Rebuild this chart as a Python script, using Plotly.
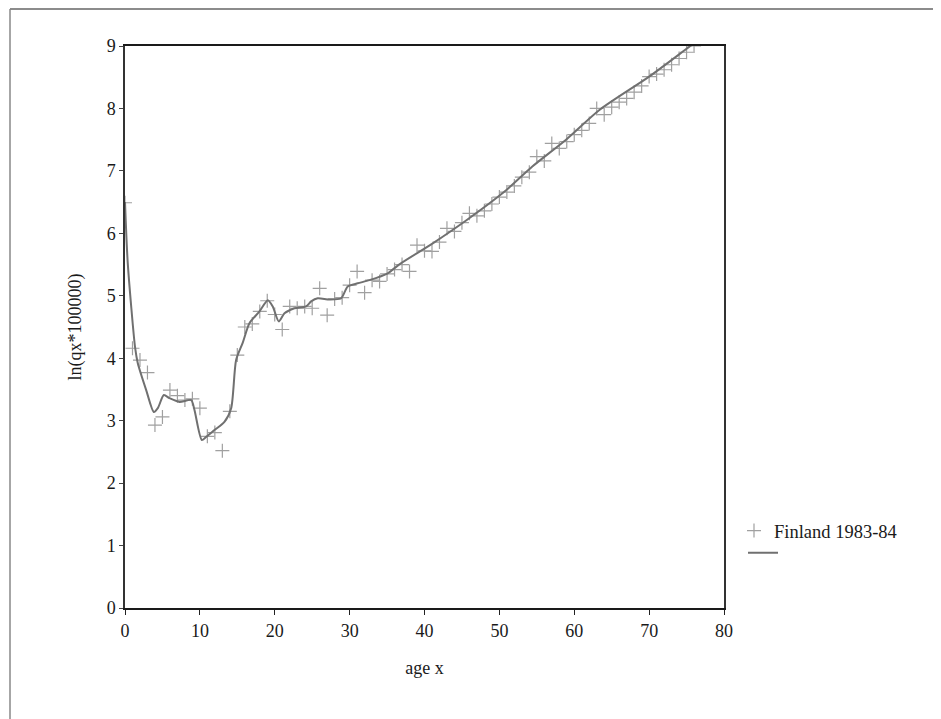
import plotly.graph_objects as go

# observed data (crosses)
data_ages = list(range(0, 77))
data_vals = [6.49, 4.16, 3.97, 3.77, 2.93, 3.06, 3.49, 3.40, 3.33, 3.35,
             3.20, 2.75, 2.81, 2.52, 3.15, 4.05, 4.50, 4.55, 4.75, 4.92,
             4.70, 4.46, 4.83, 4.80, 4.83, 4.80, 5.12, 4.69, 4.95, 4.97,
             5.17, 5.39, 5.05, 5.25, 5.23, 5.35, 5.42, 5.50, 5.39, 5.81,
             5.72, 5.71, 5.86, 6.08, 6.03, 6.17, 6.32, 6.28, 6.36, 6.47,
             6.58, 6.66, 6.76, 6.90, 6.98, 7.23, 7.16, 7.44, 7.36, 7.47,
             7.58, 7.65, 7.76, 8.00, 7.90, 8.02, 8.10, 8.16, 8.26, 8.36,
             8.51, 8.55, 8.62, 8.70, 8.80, 8.90, 9.00]

# fitted (smoothed) curve
curve_ages = [0, 0.37, 1.36, 1.71, 2.83, 3.85, 4.38, 5.19, 5.94, 7.28, 8.84,
              9.28, 10.26, 10.84, 11.95, 13.28, 14.18, 14.84, 15.73, 16.62,
              17.96, 19.07, 19.73, 20.53, 21.3, 22.63, 24.19, 24.86, 25.74,
              27.3, 28.86, 29.75, 31.08, 32.64, 35.09, 36.6, 41.1, 45.6,
              50.9, 54.4, 58.9, 63.4, 70, 75.5, 77]
curve_vals = [6.5, 5.52, 4.16, 3.92, 3.49, 3.14, 3.2, 3.41, 3.36, 3.3, 3.33,
              3.17, 2.69, 2.74, 2.85, 2.98, 3.2, 3.97, 4.25, 4.56,
              4.75, 4.93, 4.83, 4.59, 4.72, 4.8, 4.83, 4.91, 4.96,
              4.94, 4.96, 5.15, 5.2, 5.25, 5.36, 5.5, 5.84, 6.21,
              6.69, 7.07, 7.5, 7.98, 8.51, 9.0, 9.13]

x_ticks = [0, 10, 20, 30, 40, 50, 60, 70, 80]
y_ticks = [0, 1, 2, 3, 4, 5, 6, 7, 8, 9]

series_name = "Finland 1983-84"

FONT = "Liberation Serif"

fig = go.Figure()
fig.add_trace(go.Scatter(
    x=data_ages, y=data_vals, mode="markers", name=series_name,
    marker=dict(symbol="cross-thin", size=10, color="#a0a0a0",
                line=dict(color="#a0a0a0", width=1.2)),
    legend="legend", cliponaxis=True,
))
fig.add_trace(go.Scatter(
    x=curve_ages, y=curve_vals, mode="lines", name=" ",
    line=dict(color="#707070", width=2, shape="spline", smoothing=0.7),
    legend="legend2",
))

# page has an 8px body margin: figure origin sits at (8, 8) on the page
OFF = 8
W, H = 941 - OFF, 719 - OFF
L, T = 125 - OFF, 46 - OFF
R = W - (724 - OFF)
B = H - (608 - OFF)
pw, ph = W - L - R, H - T - B

def px(x):  # page x -> paper x
    return (x - OFF - L) / pw

def py(y):  # page y -> paper y
    return (H - B - (y - OFF)) / ph

fig.update_layout(
    width=W, height=H,
    margin=dict(l=L, r=R, t=T, b=B, pad=0, autoexpand=False),
    paper_bgcolor="white", plot_bgcolor="white",
    font=dict(family=FONT, size=18, color="#1a1a1a"),
    showlegend=True,
    legend=dict(x=px(734), y=py(531), xanchor="left", yanchor="middle",
                font=dict(family=FONT, size=18.5, color="#1a1a1a"),
                bgcolor="rgba(0,0,0,0)", itemwidth=30),
    legend2=dict(x=px(743), y=py(553), xanchor="left", yanchor="middle",
                 font=dict(family=FONT, size=18, color="#1a1a1a"),
                 bgcolor="rgba(0,0,0,0)", itemwidth=30),
    xaxis=dict(range=[0, 80], tickvals=x_ticks, ticks="outside", ticklen=5,
               tickcolor="#222", showgrid=False, zeroline=False,
               showline=True, linecolor="#1a1a1a", linewidth=2, mirror=True,
               title=dict(text="age x", font=dict(family=FONT, size=18), standoff=22),
               tickfont=dict(family=FONT, size=18)),
    yaxis=dict(range=[0, 9], tickvals=y_ticks, ticks="outside", ticklen=4,
               tickcolor="#444", showgrid=False, zeroline=False,
               showline=True, linecolor="#333", linewidth=1.5, mirror=True,
               title=dict(text="ln(qx*100000)", font=dict(family=FONT, size=18), standoff=20),
               tickfont=dict(family=FONT, size=18)),
    shapes=[
        dict(type="line", xref="paper", yref="paper",
             x0=px(10), y0=py(9), x1=px(941), y1=py(9),
             line=dict(color="#666", width=1.5), layer="below"),
        dict(type="line", xref="paper", yref="paper",
             x0=px(10), y0=py(9), x1=px(10), y1=py(719),
             line=dict(color="#888", width=1.5), layer="below"),
    ],
)

fig.write_html("out.html")
